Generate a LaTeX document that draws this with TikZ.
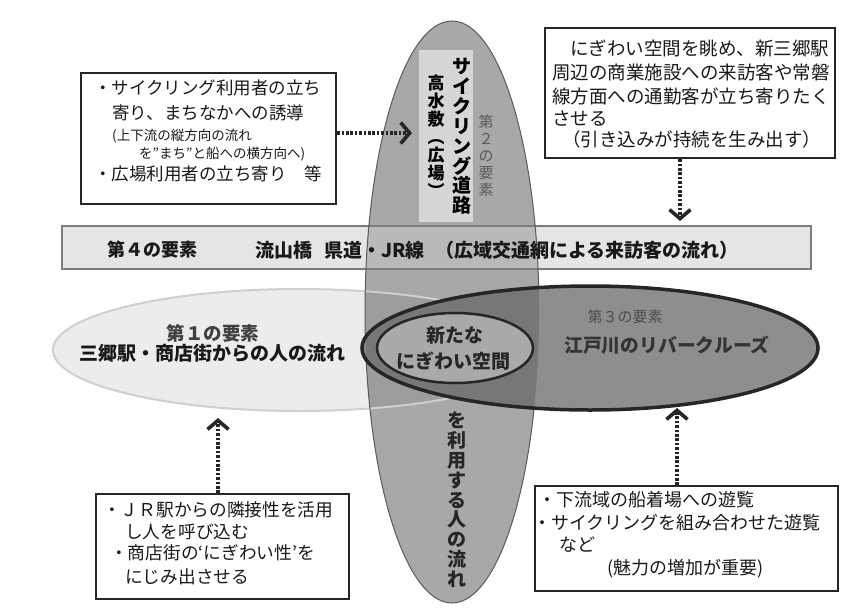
\documentclass[tikz,border=0pt]{standalone}
\usepackage{fontspec}
\setmainfont{Noto Sans CJK JP}
\usetikzlibrary{arrows.meta}
\definecolor{cVert}{HTML}{A8A8A8}
\definecolor{cVertBorder}{HTML}{5A5A5A}
\definecolor{cInner}{HTML}{D6D6D6}
\definecolor{cBand}{HTML}{E5E5E5}
\definecolor{cBandIn}{HTML}{B9B9B9}
\definecolor{cBandBorder}{HTML}{7C7C7C}
\definecolor{cPale}{HTML}{ECECEC}
\definecolor{cPaleIn}{HTML}{9D9D9D}
\definecolor{cPaleBorder}{HTML}{CFCFCF}
\definecolor{cDark}{HTML}{8E8E8E}
\definecolor{cDarkIn}{HTML}{777777}
\definecolor{cDarkBorder}{HTML}{262626}
\definecolor{cNew}{HTML}{A9A9A9}
\newcommand{\jfs}[1]{\fontsize{#1}{#1}\selectfont}
\begin{document}
\begin{tikzpicture}[x=1pt,y=-1pt,
  txt/.style={inner sep=0pt, anchor=base west, text=black!90},
  ctxt/.style={inner sep=0pt, anchor=base, text=black!90},
  vtxt/.style={inner sep=0pt, align=center, anchor=north},
  infobox/.style={draw=black!85, line width=2.2pt, fill=white, inner sep=0pt, anchor=north west},
  flow/.style={line width=3.6pt, dash pattern=on 2.6pt off 1.8pt, draw=black!85,
    -{Straight Barb[length=9pt,width=21pt,line width=3.6pt]}}]
\useasboundingbox (0,0) rectangle (848,608);
\fill[white] (0,0) rectangle (848,608);

% ---- second element: vertical ellipse
\fill[cVert] (452,312) ellipse [x radius=87pt, y radius=291pt];
\fill[cInner] (419,50) rectangle (473,222);

% ---- fourth element: band
\fill[cBand] (62,226) rectangle (811,269);
\begin{scope}
  \clip (452,312) ellipse [x radius=87pt, y radius=291pt];
  \fill[cBandIn] (62,226) rectangle (811,269);
\end{scope}
\draw[cBandBorder, line width=1.5pt] (62,226) rectangle (811,269);

% ---- first element: pale ellipse
\fill[cPale] (299,350) ellipse [x radius=246pt, y radius=61pt];
\begin{scope}
  \clip (452,312) ellipse [x radius=87pt, y radius=291pt];
  \fill[cPaleIn] (299,350) ellipse [x radius=246pt, y radius=61pt];
\end{scope}
\draw[cPaleBorder, line width=2pt] (299,350) ellipse [x radius=246pt, y radius=61pt];

\draw[cVertBorder, line width=1pt] (452,312) ellipse [x radius=87pt, y radius=291pt];

% ---- third element: dark ellipse
\fill[cDark] (590,348) ellipse [x radius=228pt, y radius=62pt];
\begin{scope}
  \clip (452,312) ellipse [x radius=87pt, y radius=291pt];
  \fill[cDarkIn] (590,348) ellipse [x radius=228pt, y radius=62pt];
\end{scope}
\draw[cDarkBorder, line width=3.5pt] (590,348) ellipse [x radius=228pt, y radius=62pt];

% ---- new space ellipse
\draw[cDarkBorder, fill=cNew, line width=2.5pt] (455,348) ellipse [x radius=78pt, y radius=35pt];

% ---- texts in shapes
\node[vtxt, font=\bfseries\fontsize{19}{19.9}\selectfont] (v1) at (462,58) {サ\\イ\\ク\\リ\\ン\\グ\\道\\路};
\node[vtxt, font=\bfseries\fontsize{17}{18}\selectfont] (v2) at (436,75) {高\\水\\敷\\︵\\広\\場\\︶};
\node[vtxt, font=\fontsize{15}{17}\selectfont, text=black!65] (v3) at (486,115) {第\\２\\の\\要\\素};
\node[vtxt, font=\bfseries\fontsize{19}{19.8}\selectfont, text=black!85] (v4) at (457,412) {を\\利\\用\\す\\る\\人\\の\\流\\れ};

\node[ctxt, font=\bfseries\jfs{18}] (b1) at (152,256.8) {第４の要素};
\node[txt, font=\bfseries\jfs{19}] (b2) at (255,257.2) {流山橋\hspace{12pt}県道・JR線};
\node[txt, font=\bfseries\jfs{19}] (b3) at (435,257.2) {（広域交通網による来訪客の流れ）};

\node[ctxt, font=\bfseries\jfs{18.5}, text=black!75] (e1a) at (213,340) {第１の要素};
\node[ctxt, font=\bfseries\jfs{19}] (e1b) at (212.5,360.2) {三郷駅・商店街からの人の流れ};

\node[ctxt, font=\jfs{15}, text=black!70] (e3a) at (625,322.7) {第３の要素};
\node[ctxt, font=\bfseries\jfs{18.8}, text=black!80] (e3b) at (667,352.1) {江戸川のリバークルーズ};

\node[ctxt, font=\bfseries\jfs{19}, text=black!85] (n1) at (455,342.2) {新たな};
\node[ctxt, font=\bfseries\jfs{19}, text=black!85] (n2) at (453,368.2) {にぎわい空間};

% ---- top-left box
\node[infobox, minimum width=255pt, minimum height=131pt] (tl) at (80,72) {};
\node[txt, font=\jfs{17.5}] (tl1) at (94,94.7) {・サイクリング利用者の立ち};
\node[txt, font=\jfs{17.5}] (tl2) at (112,119.7) {寄り、まちなかへの誘導};
\node[txt, font=\jfs{13.5}] (tl3) at (112,140.1) {(上下流の縦方向の流れ};
\node[txt, font=\jfs{13.5}] (tl4) at (139,158.1) {を”まち”と船への横方向へ)};
\node[txt, font=\jfs{17.5}] (tl5) at (94,180.7) {・広場利用者の立ち寄り　等};

% ---- top-right box
\node[infobox, minimum width=290pt, minimum height=130pt] (tr) at (544,27) {};
\node[txt, font=\jfs{18.5}] (tr1) at (570,55) {にぎわい空間を眺め、新三郷駅};
\node[txt, font=\jfs{18.5}] (tr2) at (552,79) {周辺の商業施設への来訪客や常磐};
\node[txt, font=\jfs{18.5}] (tr3) at (552,103) {線方面への通勤客が立ち寄りたく};
\node[txt, font=\jfs{18.5}] (tr4) at (552,125) {させる};
\node[txt, font=\jfs{18.5}] (tr5) at (562,146) {（引き込みが持続を生み出す）};

% ---- bottom-left box
\node[infobox, minimum width=253pt, minimum height=105pt] (bl) at (95,493) {};
\node[txt, font=\jfs{17.7}] (bl1) at (103,516.7) {・ＪＲ駅からの隣接性を活用};
\node[txt, font=\jfs{17.7}] (bl2) at (125,538.7) {し人を呼び込む};
\node[txt, font=\jfs{17.7}] (bl3) at (110,559.7) {・商店街の‘にぎわい性’を};
\node[txt, font=\jfs{17.7}] (bl4) at (125,583.7) {にじみ出させる};

% ---- bottom-right box
\node[infobox, minimum width=303pt, minimum height=105pt] (br) at (534,485) {};
\node[txt, font=\jfs{18}] (br1) at (538,506.8) {・下流域の船着場への遊覧};
\node[txt, font=\jfs{18}] (br2) at (533,529.8) {・サイクリングを組み合わせた遊覧};
\node[txt, font=\jfs{18}] (br3) at (559,551.8) {など};
\node[txt, font=\jfs{18}] (br4) at (607,574.8) {(魅力の増加が重要)};

% ---- connectors
\coordinate (tlA) at (412,133);
\coordinate (trA) at (680,221);
\coordinate (blA) at (218,418);
\coordinate (brA) at (677,408);
\draw[flow] (tl.east |- tlA) -- (tlA);
\draw[flow] (tr.south -| trA) -- (trA);
\draw[flow] (bl.north -| blA) -- (blA);
\draw[flow] (br.north -| brA) -- (brA);
\end{tikzpicture}
\end{document}
